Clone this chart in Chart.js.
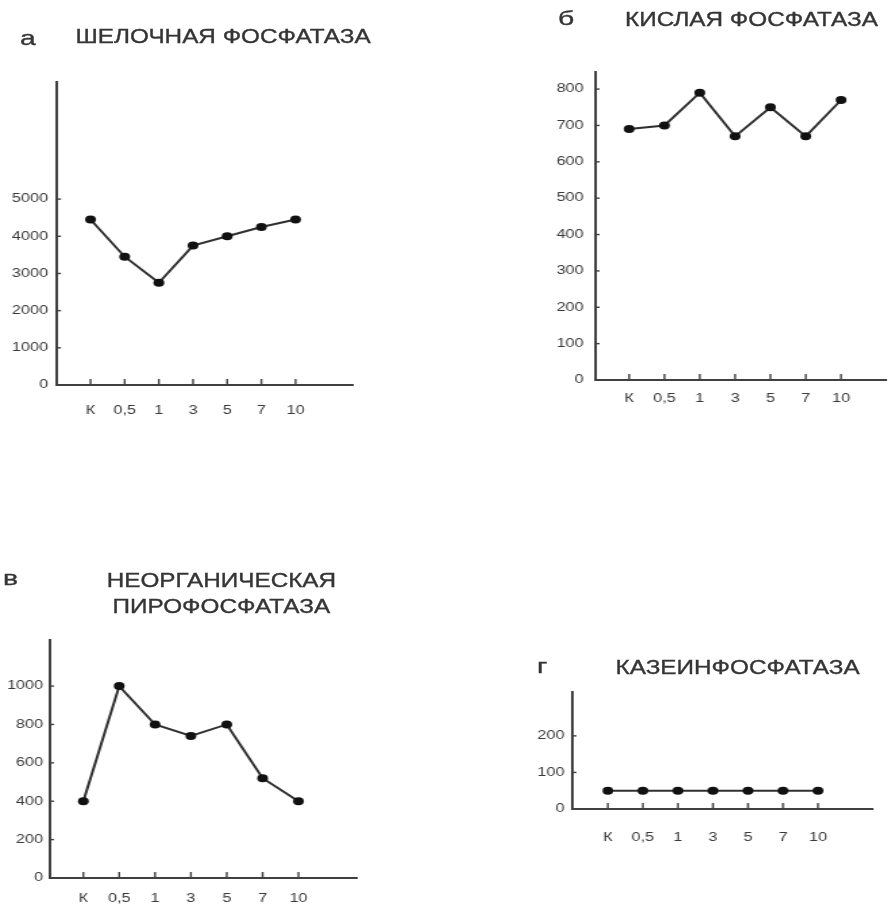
<!DOCTYPE html>
<html lang="ru">
<head>
<meta charset="utf-8">
<title>Фосфатазы</title>
<script src="https://cdn.jsdelivr.net/npm/chart.js@4"></script>
<style>
    html, body { margin: 0; padding: 0; background: #fff; overflow: hidden; }
    #stage {
        position: absolute; left: 0; top: 0; height: 913px;
        transform-origin: 0 0;
        font-family: "Liberation Sans", Arial, sans-serif;
        color: #353535;
        filter: blur(0.35px);
    }
    .txt {
        position: absolute; white-space: nowrap; line-height: 1;
        transform-origin: 0 0;
        -webkit-text-stroke: 0.35px #353535;
    }
    .box { position: absolute; }
</style>
</head>
<body>
<div id="stage"></div>
<script>
(function () {
    'use strict';

    // -----------------------------------------------------------------------
    // Data
    // -----------------------------------------------------------------------
    const categories = ['К', '0,5', '1', '3', '5', '7', '10'];

    const alkalineValues = [4450, 3450, 2750, 3750, 4000, 4250, 4450];
    const acidValues     = [690, 700, 790, 670, 750, 670, 770];
    const pyroValues     = [400, 1000, 800, 740, 800, 520, 400];
    const caseinValues   = [50, 50, 50, 50, 50, 50, 50];

    const alkalineTicks = [0, 1000, 2000, 3000, 4000, 5000];
    const acidTicks     = [0, 100, 200, 300, 400, 500, 600, 700, 800];
    const pyroTicks     = [0, 200, 400, 600, 800, 1000];
    const caseinTicks   = [0, 100, 200];

    // the scanned figure is stretched sideways, so the whole page is too
    const STRETCH = 1.35;
    const FONT = '"Liberation Sans", Arial, sans-serif';
    const INK = '#404040';
    const LABEL = '#3a3a3a';

    const stage = document.getElementById('stage');
    stage.style.width = (891 / STRETCH) + 'px';
    stage.style.transform = 'scaleX(' + STRETCH + ')';

    // -----------------------------------------------------------------------
    // Panels (positions in screen px)
    // -----------------------------------------------------------------------
    const panels = [
        {
            letter: 'а', letterAt: [20, 45],
            title: 'ШЕЛОЧНАЯ ФОСФАТАЗА', titleAt: [75, 43],
            values: alkalineValues, ticks: alkalineTicks, yMax: 8150,
            axisX: 57, top: 82, bottom: 385, right: 358, yWidth: 57,
            xMin: -0.98, xMax: 7.67, labelGap: 9, xPad: 18,
        },
        {
            letter: 'б', letterAt: [558, 25],
            title: 'КИСЛАЯ ФОСФАТАЗА', titleAt: [625, 25.5],
            values: acidValues, ticks: acidTicks, yMax: 847,
            axisX: 596, top: 72, bottom: 380, right: 891, yWidth: 50,
            xMin: -0.95, xMax: 7.28, labelGap: 12, xPad: 11,
        },
        {
            letter: 'в', letterAt: [3, 585],
            title: null,
            values: pyroValues, ticks: pyroTicks, yMax: 1240,
            axisX: 50, top: 640, bottom: 878, right: 362, yWidth: 50,
            xMin: -0.93, xMax: 7.62, labelGap: 7, xPad: 13,
        },
        {
            letter: 'г', letterAt: [537, 673],
            title: 'КАЗЕИНФОСФАТАЗА', titleAt: [615, 674],
            values: caseinValues, ticks: caseinTicks, yMax: 320,
            axisX: 572, top: 692, bottom: 809, right: 878, yWidth: 50,
            xMin: -1.01, xMax: 7.57, labelGap: 8, xPad: 21,
        },
    ];

    // -----------------------------------------------------------------------
    // Helpers
    // -----------------------------------------------------------------------
    function addText(text, x, baseline, size, squeeze) {
        const d = document.createElement('div');
        d.className = 'txt';
        d.textContent = text;
        d.style.fontSize = size + 'px';
        d.style.left = (x / STRETCH) + 'px';
        d.style.top = (baseline - 0.8465 * size) + 'px';
        if (squeeze) d.style.transform = 'scaleX(' + squeeze + ')';
        stage.appendChild(d);
        return d;
    }

    function addCentered(text, cx, baseline, size, squeeze) {
        const w = 300;
        const d = addText(text, cx - w * squeeze / 2, baseline, size, squeeze);
        d.style.width = (w / STRETCH) + 'px';
        d.style.textAlign = 'center';
    }

    // small tick marks pointing into the plot, like the original
    const innerTicks = {
        id: 'innerTicks',
        beforeDatasetsDraw(chart) {
            const ctx = chart.ctx;
            const area = chart.chartArea;
            const xs = chart.scales.x;
            const ys = chart.scales.y;
            ctx.save();
            ctx.strokeStyle = INK;
            ctx.lineWidth = 1.4;
            xs.ticks.forEach(function (t) {
                const px = xs.getPixelForValue(t.value);
                ctx.beginPath();
                ctx.moveTo(px, area.bottom);
                ctx.lineTo(px, area.bottom - 6);
                ctx.stroke();
            });
            ys.ticks.forEach(function (t) {
                if (t.value === 0) return;
                const py = ys.getPixelForValue(t.value);
                ctx.beginPath();
                ctx.moveTo(area.left, py);
                ctx.lineTo(area.left + 4 / STRETCH, py);
                ctx.stroke();
            });
            ctx.restore();
        },
    };

    function buildPanel(p) {
        const padTop = 8;
        const xH = 40;
        const left = p.axisX - p.yWidth;

        const box = document.createElement('div');
        box.className = 'box';
        box.style.left = (left / STRETCH) + 'px';
        box.style.top = (p.top - padTop) + 'px';
        box.style.width = ((p.right - left) / STRETCH) + 'px';
        box.style.height = (p.bottom - p.top + padTop + xH) + 'px';
        const canvas = document.createElement('canvas');
        box.appendChild(canvas);
        stage.appendChild(box);

        const tickFont = { family: FONT, size: 12 };

        return new Chart(canvas, {
            type: 'line',
            data: {
                datasets: [{
                    data: p.values.map(function (v, i) { return { x: i, y: v }; }),
                    borderColor: '#303030',
                    borderWidth: 2,
                    pointRadius: 4,
                    pointBackgroundColor: '#111',
                    pointBorderColor: '#111',
                    pointBorderWidth: 0,
                    tension: 0,
                    clip: false,
                }],
            },
            options: {
                responsive: true,
                maintainAspectRatio: false,
                animation: false,
                layout: { padding: { top: padTop, left: 0, right: 0, bottom: 0 } },
                plugins: {
                    legend: { display: false },
                    tooltip: { enabled: false },
                },
                scales: {
                    x: {
                        type: 'linear',
                        min: p.xMin,
                        max: p.xMax,
                        afterBuildTicks: function (s) {
                            s.ticks = categories.map(function (_, i) { return { value: i }; });
                        },
                        afterFit: function (s) {
                            s.height = xH;
                            s.paddingLeft = 0;
                            s.paddingRight = 0;
                        },
                        ticks: {
                            callback: function (v) { return categories[v]; },
                            color: LABEL,
                            font: tickFont,
                            padding: p.xPad,
                            autoSkip: false,
                            maxRotation: 0,
                        },
                        grid: { display: false, drawTicks: false },
                        border: { display: true, color: INK, width: 2 },
                    },
                    y: {
                        min: 0,
                        max: p.yMax,
                        afterBuildTicks: function (s) {
                            s.ticks = p.ticks.map(function (v) { return { value: v }; });
                        },
                        afterFit: function (s) {
                            s.width = p.yWidth / STRETCH;
                            s.paddingTop = 0;
                            s.paddingBottom = 0;
                        },
                        ticks: {
                            callback: function (v) { return String(v); },
                            color: LABEL,
                            font: tickFont,
                            padding: p.labelGap / STRETCH,
                        },
                        grid: { display: false, drawTicks: false },
                        border: { display: true, color: INK, width: 2 },
                    },
                },
            },
            plugins: [innerTicks],
        });
    }

    // -----------------------------------------------------------------------
    // Init
    // -----------------------------------------------------------------------
    panels.forEach(function (p) {
        addText(p.letter, p.letterAt[0], p.letterAt[1], 21);
        if (p.title) addText(p.title, p.titleAt[0], p.titleAt[1], 20, 0.9);
        buildPanel(p);
    });

    addCentered('НЕОРГАНИЧЕСКАЯ', 222, 587, 20, 0.9);
    addCentered('ПИРОФОСФАТАЗА', 222, 613, 20, 0.9);
})();
</script>
</body>
</html>
